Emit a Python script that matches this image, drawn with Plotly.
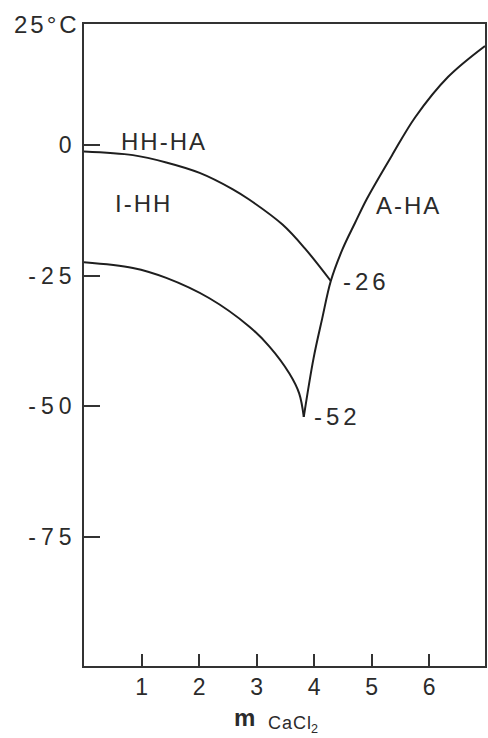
import plotly.graph_objects as go

# CaCl2–H2O phase boundaries: temperature (°C) against molality of CaCl2
upper_m = [0.0, 0.85, 1.43, 2.01, 2.58, 2.87, 3.45, 3.85, 4.29]
upper_t = [-1.2, -1.9, -3.3, -5.3, -8.4, -10.4, -15.2, -19.9, -26.0]

lower_m = [0.0, 0.85, 1.43, 2.18, 2.87, 3.22, 3.57, 3.74, 3.82]
lower_t = [-22.4, -23.5, -25.4, -29.3, -34.7, -38.5, -43.7, -47.5, -52.0]

right_m = [3.82, 3.99, 4.14, 4.29, 4.49, 4.71, 4.92, 5.35, 5.76, 6.33, 6.97]
right_t = [-52.0, -40.8, -33.2, -26.0, -20.0, -14.9, -10.2, -2.0, 5.4, 13.1, 19.0]

x_ticks = [1, 2, 3, 4, 5, 6]
y_ticks = [0, -25, -50, -75]
y_tick_text = ["0", "-25", "-50", "-75"]
top_label = "25°C"

field_labels = ["HH-HA", "I-HH", "A-HA"]
field_m = [1.38, 1.02, 5.62]
field_t = [0.75, -11.2, -11.6]

INK = "#2b2b2b"
FONT = "Liberation Sans, Arial, Helvetica, sans-serif"


def spaced(text, px):
    """Track the letters apart, leaving no trailing gap after the last one."""
    if len(text) < 2:
        return text
    return f"<span style='letter-spacing:{px}px'>{text[:-1]}</span>{text[-1]}"


fig = go.Figure()
for xs, ys in [(upper_m, upper_t), (lower_m, lower_t), (right_m, right_t)]:
    fig.add_trace(go.Scatter(
        x=xs, y=ys, mode="lines",
        line=dict(color="#1e1e1e", width=2, shape="spline", smoothing=1.0),
        hoverinfo="skip", showlegend=False,
    ))

annotations = []
for txt, xm, yt in zip(field_labels, field_m, field_t):
    annotations.append(dict(
        x=xm, y=yt, xref="x", yref="y", text=spaced(txt, 2),
        showarrow=False, font=dict(size=24, color=INK, family=FONT),
        xanchor="center", yanchor="middle",
    ))

# temperatures of the peritectic and eutectic junctions
for xm, yt, shift in [(upper_m[-1], upper_t[-1], 10), (lower_m[-1], lower_t[-1], 8)]:
    annotations.append(dict(
        x=xm, y=yt, xref="x", yref="y", text=spaced(f"{yt:.0f}", 4),
        showarrow=False, font=dict(size=24, color=INK, family=FONT),
        xanchor="left", yanchor="middle", xshift=shift,
    ))

annotations.append(dict(
    x=0, y=1, xref="paper", yref="paper", text=spaced(top_label, 3),
    showarrow=False, font=dict(size=24, color=INK, family=FONT),
    xanchor="right", yanchor="middle", xshift=-5,
))

# axis title: bold m with CaCl2 set smaller and lower
annotations.append(dict(
    x=0.3995, y=0, xref="paper", yref="paper", text="<b>m</b>",
    showarrow=False, font=dict(size=24, color=INK, family=FONT),
    xanchor="center", yanchor="top", yshift=-36,
))
annotations.append(dict(
    x=0.521, y=0, xref="paper", yref="paper",
    text=spaced("CaCl", 1) + "<sub>2</sub>",
    showarrow=False, font=dict(size=18, color=INK, family=FONT),
    xanchor="center", yanchor="top", yshift=-45,
))

fig.update_layout(
    width=488, height=738,
    margin=dict(l=84, r=1, t=24, b=72),
    paper_bgcolor="white", plot_bgcolor="white",
    font=dict(family=FONT, size=23, color=INK),
    annotations=annotations,
    xaxis=dict(
        range=[0, 6.97], tickvals=x_ticks,
        ticktext=[str(v) for v in x_ticks],
        ticks="inside", ticklen=12, tickwidth=1.5, tickcolor="#333",
        showline=True, linecolor="#333", linewidth=1.6, mirror=True,
        showgrid=False, zeroline=False, ticklabelstandoff=0,
        tickfont=dict(size=23, color=INK, family=FONT),
    ),
    yaxis=dict(
        range=[-99.7, 23.2], tickvals=y_ticks,
        ticktext=[spaced(t, 5) for t in y_tick_text],
        ticks="inside", ticklen=16, tickwidth=1.8, tickcolor="#333",
        showline=True, linecolor="#333", linewidth=1.6, mirror=True,
        showgrid=False, zeroline=False, ticklabelstandoff=6,
        tickfont=dict(size=23, color=INK, family=FONT),
    ),
)

fig.write_html("out.html")
